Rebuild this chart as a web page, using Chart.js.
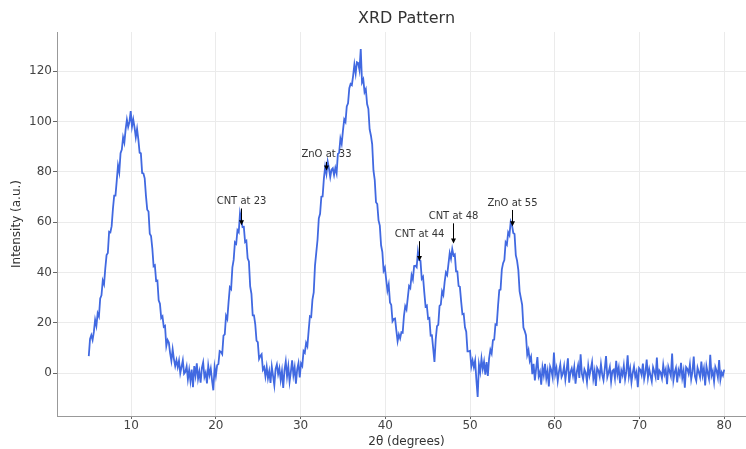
<!DOCTYPE html>
<html><head><meta charset="utf-8">
<script src="https://cdn.jsdelivr.net/npm/chart.js@4"></script>
<style>
html,body{margin:0;padding:0;overflow:hidden;background:#fff;width:746px;height:449px}
#wrap{position:absolute;left:0;top:0;width:790px;height:449px}
</style>
</head><body>
<div id="wrap"><canvas id="c" width="790" height="449"></canvas></div>
<script>
// 2θ sampling of the measured pattern
const twoThetaStart = 5;
const twoThetaStep = 0.15;

// intensity values (a.u.), one per 2θ step
const intensity = [
  // 5.00 – 16.85
  6.8, 13.6, 15.1, 13.2, 16.4, 21.2, 18.8, 23.8, 22.5, 29.7,
  30.9, 36.8, 35.3, 41.6, 46.9, 47.7, 56.2, 55.9, 58.4, 65.2,
  70.5, 70.5, 76.4, 82.5, 79.8, 87.4, 88.8, 93.7, 91.6, 96.8,
  100.7, 97.8, 99.8, 104.1, 97.9, 100.8, 97.6, 93.7, 97.0, 92.9,
  87.6, 87.3, 79.5, 79.3, 77.4, 70.4, 64.9, 64.2, 55.4, 54.5,
  49.6, 42.5, 42.9, 36.6, 36.8, 28.9, 27.6, 21.9, 22.6, 18.4,
  18.8, 10.8, 13.2, 12.2, 8.0, 4.9, 9.5, 5.6, 2.8, 5.2,
  2.4, 5.0, 0.0, 2.5, 5.1, -0.2, 0.5, 2.7, -2.4, 1.3,
  // 17.00 – 20.15
  -3.1, 1.4, -5.6, 2.8, -0.9, 3.9, -2.2, 0.6, -3.8, 2.1,
  4.3, -1.5, 0.2, -4.1, 3.0, -0.7, 1.8, -2.9, -6.8, 2.4,
  -1.0, 3.2,
  // 20.30 – 26.00
  3.6, 8.8, 8.5, 7.6, 14.9, 15.4, 22.8, 21.5, 28.2, 34.1,
  33.4, 42.0, 45.0, 52.0, 51.4, 56.8, 56.0, 63.6, 61.0, 58.0,
  58.1, 52.1, 52.6, 45.6, 44.4, 34.5, 31.5, 23.0, 23.0, 19.4,
  12.9, 12.3, 5.7, 6.8, 7.5, 1.4, 2.4, -1.3, 2.5,
  // 26.15 – 29.90
  -2.0, 0.8, -3.9, 2.6, -1.1, -4.8, 1.7, 3.5, -0.4, 2.0,
  -2.7, 0.9, -5.9, 1.2, 4.6, -1.3, 2.7, -3.4, 0.5, 5.1,
  -0.8, 2.3, -4.2, 1.6, 4.0, -1.7,
  // 30.05 – 41.75
  3.9, 2.9, 8.8, 8.1, 12.0, 10.7, 16.8, 22.6, 22.3, 29.2,
  32.1, 42.7, 47.9, 53.0, 61.5, 63.3, 70.1, 70.2, 77.3, 82.0,
  79.2, 84.0, 81.3, 77.9, 80.8, 81.4, 78.7, 81.5, 79.4, 87.1,
  87.5, 93.2, 91.1, 96.3, 100.8, 99.8, 105.9, 107.2, 113.2, 114.9,
  114.4, 118.1, 122.6, 119.0, 123.5, 123.2, 120.4, 128.7, 115.5, 116.7,
  111.6, 112.8, 106.9, 105.0, 96.8, 94.4, 90.9, 80.5, 76.8, 67.9,
  67.2, 60.7, 58.6, 50.8, 48.1, 40.7, 41.9, 37.2, 32.8, 35.2,
  28.1, 27.1, 20.6, 21.5, 21.7, 17.0, 12.7, 15.4, 13.8,
  // 41.90 – 57.50
  16.3, 16.1, 22.8, 26.6, 25.3, 29.9, 34.6, 33.8, 38.9, 37.2,
  42.6, 42.7, 42.1, 48.3, 44.9, 44.6, 37.5, 38.3, 32.1, 26.5,
  26.9, 21.6, 21.9, 14.9, 15.0, 9.8, 4.5, 13.5, 18.7, 19.2,
  26.7, 27.2, 32.5, 31.1, 36.2, 40.0, 39.0, 43.3, 47.7, 45.5,
  49.3, 46.8, 47.2, 40.4, 40.4, 34.6, 34.3, 28.5, 23.4, 23.6,
  18.2, 16.5, 8.7, 8.7, 8.9, 2.6, 5.1, 2.4, 5.0, -2.8,
  -9.4, 3.5, 0.5, 5.8, 1.7, 4.6, -0.6, 4.4, -1.1, 5.9,
  9.3, 7.8, 13.1, 13.3, 19.4, 19.2, 26.6, 33.0, 33.2, 41.1,
  43.7, 44.9, 52.0, 51.1, 55.9, 54.8, 60.2, 58.9, 55.7, 55.3,
  46.9, 44.7, 40.9, 32.5, 29.8, 27.1, 18.1, 16.8, 15.1, 7.3,
  9.2, 4.9, 6.5, -0.4, 3.7,
  // 57.65 – 80.00
  -2.9, 1.8, 6.4, -1.2, 0.5, -4.6, 2.3, -0.8, 3.7, -2.1,
  0.9, -5.3, 2.6, 1.1, -1.7, 8.2, -0.4, 2.0, -3.1, 0.7,
  3.4, -1.5, -0.2, 2.8, -2.6, 1.3, 5.9, -3.8, 0.4, 1.9,
  -1.0, 2.4, -4.2, 0.6, 3.1, -1.9, 7.5, -0.3, -2.4, 1.5,
  0.2, -3.5, 2.9, -0.9, 1.6, 4.4, -2.2, 0.8, -5.1, 2.1,
  1.0, -1.3, 3.6, -0.6, -2.8, 1.7, 6.8, -1.6, 0.3, 2.5,
  -3.3, 0.9, 1.4, -2.0, 4.9, -0.5, 2.2, -4.0, 1.1, -0.8,
  3.0, -2.5, 0.6, 7.1, -1.2, 1.8, -3.6, 0.1, 2.7, -1.4,
  0.5, -5.6, 2.0, 1.3, -0.7, 3.8, -2.3, 0.4, 5.4, -1.8,
  1.6, -0.9, -3.2, 2.4, 0.7, -1.5, 6.2, -2.7, 1.0, 0.2,
  -2.0, 3.3, -0.4, 1.5, -4.4, 2.6, 0.8, -1.1, 7.8, -2.9,
  0.3, 2.1, -3.7, 1.2, -0.6, 4.1, -1.9, 0.9, -5.8, 2.4,
  1.7, -0.2, 3.5, -2.4, 0.6, 6.6, -1.3, -3.0, 2.2, 0.4,
  -1.6, 4.6, -0.8, 1.9, -4.9, 2.8, 0.1, -2.2, 7.3, -1.0,
  0.8, -3.4, 2.5, 1.0, -1.7, 5.2, -2.6, 0.3, -0.9, 1.4
];

// axis ticks
const xTicks = [10, 20, 30, 40, 50, 60, 70, 80];
const yTicks = [0, 20, 40, 60, 80, 100, 120];

// peak annotations (data units)
const annotLabels = ['ZnO at 33', 'CNT at 23', 'CNT at 44', 'CNT at 48', 'ZnO at 55'];
const annotX      = [33, 23, 44, 48, 55];
const annotTip    = [80.5, 58.8, 44.6, 51.5, 58.4];
const annotTextY  = [86.7, 68.2, 55.2, 62.3, 67.6];

const points = intensity.map((v, i) => ({ x: +(twoThetaStart + i * twoThetaStep).toFixed(2), y: v }));

Chart.defaults.font.family = '"DejaVu Sans", sans-serif';

const overlay = {
  id: 'overlay',
  afterDatasetsDraw(chart) {
    const { ctx, scales: { x, y } } = chart;
    ctx.save();
    ctx.font = '10px "DejaVu Sans"';
    ctx.textAlign = 'center';
    ctx.textBaseline = 'middle';
    annotLabels.forEach((t, i) => {
      const px = Math.round(x.getPixelForValue(annotX[i])) + 0.5;
      const ty = y.getPixelForValue(annotTextY[i]);
      const tip = y.getPixelForValue(annotTip[i]);
      const start = ty + 7;
      if (tip - start > 5) {
        ctx.strokeStyle = '#000';
        ctx.lineWidth = 1;
        ctx.beginPath();
        ctx.moveTo(px, start);
        ctx.lineTo(px, tip - 4);
        ctx.stroke();
        ctx.fillStyle = '#000';
        ctx.beginPath();
        ctx.moveTo(px - 2.5, tip - 5);
        ctx.lineTo(px + 2.5, tip - 5);
        ctx.lineTo(px, tip);
        ctx.closePath();
        ctx.fill();
      }
      ctx.fillStyle = '#333';
      ctx.fillText(t, px, ty);
    });
    ctx.restore();
  },
  afterDraw(chart) {
    const { ctx, chartArea } = chart;
    ctx.save();
    ctx.font = '16px "DejaVu Sans"';
    ctx.fillStyle = '#333';
    ctx.textAlign = 'center';
    ctx.textBaseline = 'middle';
    ctx.fillText('XRD Pattern', (chartArea.left + chartArea.right) / 2, 19);
    ctx.restore();
  }
};

new Chart(document.getElementById('c'), {
  type: 'line',
  data: {
    datasets: [{
      data: points,
      borderColor: '#4169e1',
      borderWidth: 1.8,
      pointRadius: 0,
      tension: 0,
      fill: false
    }]
  },
  options: {
    responsive: false,
    animation: false,
    devicePixelRatio: 1,
    parsing: false,
    layout: { padding: { left: 0, right: 34, top: 32, bottom: 0 } },
    plugins: { legend: { display: false }, title: { display: false }, tooltip: { enabled: false } },
    scales: {
      x: {
        type: 'linear',
        min: 1.25,
        max: 83.75,
        afterBuildTicks: s => { s.ticks = xTicks.map(v => ({ value: v })); },
        afterFit: s => { s.height = 33; },
        ticks: { color: '#444', font: { size: 12 }, padding: 0, maxRotation: 0, autoSkip: false },
        grid: { color: '#ebebeb', lineWidth: 1, tickColor: '#666', tickLength: 3 },
        border: { color: '#999', width: 1 },
        title: { display: true, text: '2θ (degrees)', color: '#333', font: { size: 12 }, padding: { top: 3, bottom: 0 } }
      },
      y: {
        type: 'linear',
        min: -17,
        max: 135.5,
        afterBuildTicks: s => { s.ticks = yTicks.map(v => ({ value: v })); },
        afterFit: s => { s.width = 57; },
        ticks: { color: '#444', font: { size: 12 }, padding: 1, autoSkip: false },
        grid: { color: '#ebebeb', lineWidth: 1, tickColor: '#666', tickLength: 4 },
        border: { color: '#999', width: 1 },
        title: { display: true, text: 'Intensity (a.u.)', color: '#333', font: { size: 12 }, padding: { top: 10, bottom: 0 } }
      }
    }
  },
  plugins: [overlay]
});
</script>
</body></html>
